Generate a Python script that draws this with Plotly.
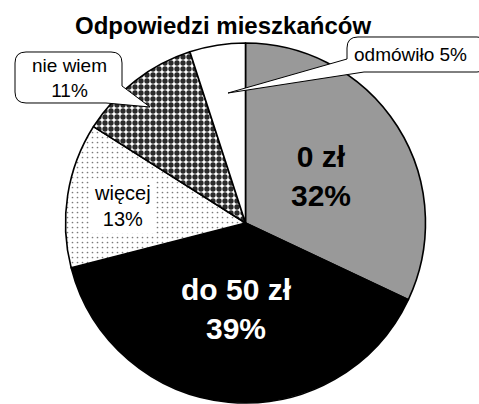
import plotly.graph_objects as go

W, H = 479, 404

categories = ["0 zł", "do 50 zł", "więcej", "nie wiem", "odmówiło"]
values = [32, 39, 13, 11, 5]
title_text = "Odpowiedzi mieszkańców"

colors = ["#999999", "#000000", "#ffffff", "#ffffff", "#ffffff"]
shapes_pat = ["", "", ".", ".", ""]
fg = ["#999999", "#000000", "#7a7a7a", "#2a2a2a", "#ffffff"]
sizes = [6, 6, 5, 6, 6]
solid = [0.3, 0.3, 0.09, 0.62, 0.3]


def P(x, y):
    return x / W, 1 - y / H


fig = go.Figure()
fig.add_trace(go.Pie(
    labels=categories,
    values=values,
    sort=False,
    direction="clockwise",
    rotation=0,
    textinfo="none",
    hoverinfo="label+percent",
    showlegend=False,
    marker=dict(
        colors=colors,
        line=dict(color="#000000", width=1.6),
        pattern=dict(shape=shapes_pat, fgcolor=fg, bgcolor=colors,
                     size=sizes, solidity=solid, fillmode="replace"),
    ),
    domain=dict(x=[64 / W, 427 / W], y=[1 / H, 361 / H]),
))


def pstr(pts):
    return " ".join(pts)


def pt(cmd, x, y):
    px, py = P(x, y)
    return f"{cmd}{px:.5f},{py:.5f}"


def q(cx, cy, x, y):
    a, b = P(cx, cy)
    c, d = P(x, y)
    return f"Q{a:.5f},{b:.5f} {c:.5f},{d:.5f}"


# bubble for "nie wiem"
x0, y0, x1, y1, r = 15, 52, 122, 103, 11
path1 = pstr([
    pt("M", x0 + r, y0), pt("L", x1 - r, y0), q(x1, y0, x1, y0 + r),
    pt("L", x1, 86), pt("L", 150, 107), pt("L", 106, y1),
    pt("L", x0 + r, y1), q(x0, y1, x0, y1 - r), pt("L", x0, y0 + r),
    q(x0, y0, x0 + r, y0), "Z"])

# bubble for "odmówiło"
x0, y0, x1, y1, r = 347, 37, 488, 72, 11
path2 = pstr([
    pt("M", x0 + r, y0), pt("L", x1 - r, y0), q(x1, y0, x1, y0 + r),
    pt("L", x1, y1 - r), q(x1, y1, x1 - r, y1), pt("L", 364, y1),
    pt("L", 228, 93), pt("L", x0, 59), pt("L", x0, y0 + r),
    q(x0, y0, x0 + r, y0), "Z"])

shapes = [
    dict(type="path", xref="paper", yref="paper", path=path1,
         fillcolor="white", line=dict(color="black", width=1), layer="above"),
    dict(type="path", xref="paper", yref="paper", path=path2,
         fillcolor="white", line=dict(color="black", width=1), layer="above"),
]

FONT = "Liberation Sans, Arial, sans-serif"


def ann(text, x, y, size, color="black", bold=False, bg=None):
    px, py = P(x, y)
    d = dict(text=f"<b>{text}</b>" if bold else text, x=px, y=py,
             xref="paper", yref="paper", xanchor="center", yanchor="middle",
             showarrow=False, font=dict(family=FONT, size=size, color=color),
             align="center")
    if bg:
        d.update(bgcolor=bg, borderpad=3)
    return d


annotations = [
    ann(title_text, 222.5, 25, 24, bold=True),
    ann(f"{categories[0]}<br>{values[0]}%", 321, 176, 30, bold=True),
    ann(f"{categories[1]}<br>{values[1]}%", 236, 309, 30, color="white", bold=True),
    ann(f"{categories[2]}<br>{values[2]}%", 122, 206, 20, bg="white"),
    ann(f"{categories[3]}<br>{values[3]}%", 69, 78, 19),
    ann(f"{categories[4]} {values[4]}%", 410, 54, 19),
]

fig.update_layout(
    width=W, height=H,
    margin=dict(l=0, r=0, t=0, b=0),
    paper_bgcolor="white", plot_bgcolor="white",
    shapes=shapes, annotations=annotations,
    font=dict(family=FONT),
)

fig.write_html(
    "out.html",
    config={"displayModeBar": False},
    post_script="document.body.style.margin='0';document.body.style.overflow='hidden';",
)
